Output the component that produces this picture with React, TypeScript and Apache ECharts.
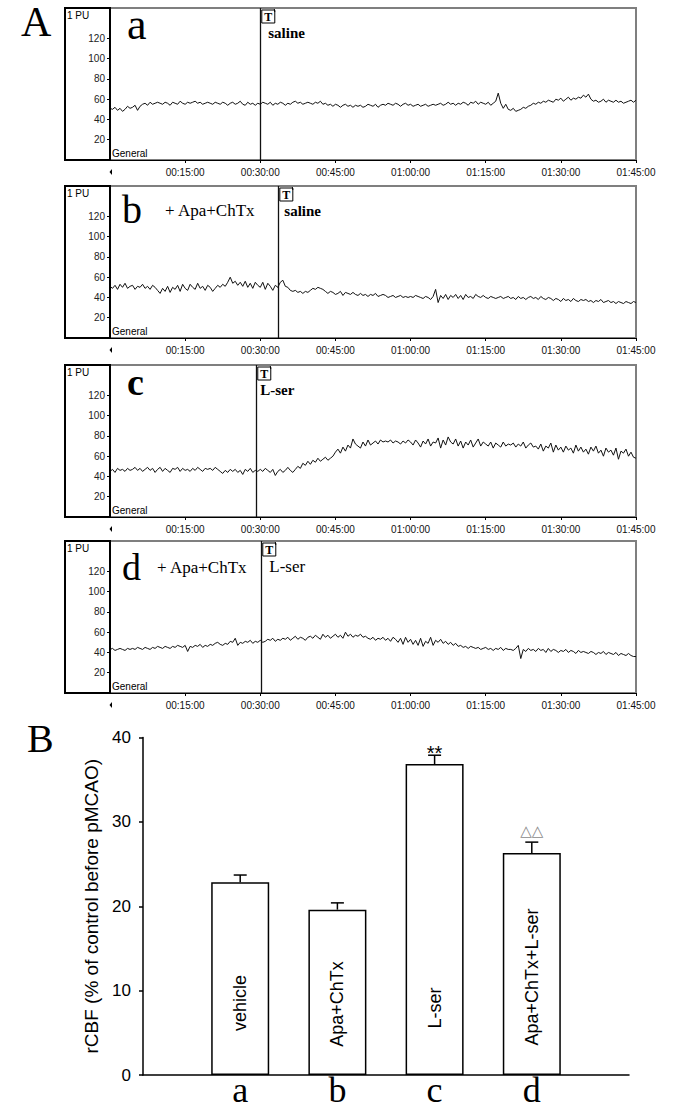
import React, { useEffect, useRef } from 'react';
import * as echarts from 'echarts';

// ---------- DATA ----------
const traceStep = 0.5; // minutes between samples
const traceA = [
  51, 50, 52, 49, 51, 48, 50, 53, 51, 52,
  54, 49, 53, 55, 56, 54, 57, 55, 56, 57,
  56, 55, 57, 56, 54, 57, 56, 55, 58, 56,
  55, 57, 56, 57, 58, 56, 57, 55, 56, 57,
  56, 55, 57, 56, 55, 57, 56, 54, 56, 57,
  55, 56, 58, 55, 54, 57, 55, 56, 54, 56,
  55, 57, 56, 55, 57, 54, 56, 55, 57, 56,
  54, 56, 55, 57, 58, 56, 57, 55, 56, 57,
  56, 55, 57, 56, 58, 55, 56, 54, 55, 53,
  55, 54, 52, 54, 55, 53, 54, 52, 54, 53,
  54, 52, 53, 55, 54, 53, 55, 52, 54, 55,
  54, 56, 55, 54, 56, 55, 53, 55, 56, 54,
  55, 53, 54, 55, 53, 54, 55, 53, 54, 55,
  54, 55, 56, 54, 55, 57, 55, 56, 54, 56,
  55, 57, 56, 54, 57, 56, 58, 55, 57, 56,
  55, 57, 54, 56, 58, 66, 56, 51, 55, 50,
  49, 51, 48, 49, 50, 52, 51, 53, 54, 56,
  55, 57, 56, 58, 57, 59, 58, 57, 60, 59,
  61, 58, 60, 62, 59, 61, 60, 62, 61, 64,
  62, 65, 60, 58, 59, 57, 58, 60, 57, 59,
  58, 57, 59, 57, 58, 56, 57, 58, 59, 57,
  59,
];
const traceB = [
  51, 49, 52, 48, 53, 50, 54, 49, 51, 52,
  48, 51, 50, 53, 49, 51, 48, 52, 50, 47,
  44, 49, 46, 51, 45, 50, 48, 52, 46, 53,
  49, 47, 53, 50, 48, 54, 49, 51, 47, 52,
  50, 46, 49, 52, 50, 53, 51, 55, 60, 54,
  56, 52, 55, 51, 56, 50, 54, 49, 55, 52,
  50, 55, 48, 54, 51, 47, 52, 50, 55, 57,
  51, 50, 47, 46, 47, 45, 46, 44, 46, 45,
  47, 49, 48, 50, 49, 48, 46, 44, 46, 45,
  43, 44, 46, 42, 45, 44, 43, 45, 43, 42,
  44, 42, 43, 41, 43, 42, 44, 41, 42, 43,
  42, 40, 41, 42, 40, 41, 42, 40, 41, 40,
  41, 40, 42, 41, 40, 39, 41, 40, 38, 41,
  48, 35, 42, 39, 43, 38, 42, 40, 43, 39,
  42, 38, 43, 40, 41, 39, 43, 41, 40, 42,
  40, 39, 41, 40, 39, 40, 41, 39, 40, 41,
  39, 40, 38, 41, 39, 40, 38, 40, 41, 39,
  40, 38, 41, 39, 38, 40, 39, 37, 39, 38,
  36, 39, 37, 38, 36, 39, 37, 36, 38, 37,
  38, 36, 37, 35, 37, 36, 38, 35, 36, 37,
  35, 36, 34, 36, 35, 34, 36, 35, 34, 36,
  35,
];
const traceC = [
  45, 47, 44, 48, 46, 47, 45, 48, 46, 47,
  49, 46, 48, 45, 47, 49, 46, 48, 44, 47,
  49, 45, 48, 46, 44, 48, 47, 49, 45, 48,
  46, 47, 45, 48, 46, 49, 47, 45, 48, 47,
  48, 46, 49, 47, 45, 43, 46, 44, 47, 45,
  47, 44, 46, 42, 47, 45, 48, 44, 46, 45,
  47, 45, 48, 46, 44, 47, 41, 45, 47, 44,
  46, 49, 46, 44, 47, 50, 48, 53, 51, 55,
  52, 56, 54, 58, 55, 57, 59, 56, 58, 60,
  64, 67, 63, 69, 65, 71, 68, 77, 72, 70,
  68, 74, 70, 76, 71, 73, 75, 72, 76, 74,
  75, 74, 76, 73, 75, 74, 72, 75, 73, 76,
  74, 71, 76, 73, 69, 75, 72, 77, 70, 74,
  73, 78, 68, 76, 71, 79, 74, 72, 77, 70,
  75, 68, 74, 71, 76, 69, 73, 77, 70, 74,
  72, 70, 74, 68, 73, 71, 69, 74, 70, 72,
  71, 73, 69, 72, 70, 74, 68, 71, 73, 69,
  70, 67, 72, 65, 70, 68, 73, 64, 71, 66,
  69, 64, 70, 66, 68, 63, 71, 65, 69, 64,
  67, 62, 69, 65, 70, 63, 66, 60, 68, 64,
  66, 61, 68, 57, 65, 63, 67, 60, 64, 59,
  58,
];
const traceD = [
  43, 44, 42, 43, 44, 43, 42, 44, 43, 44,
  43, 45, 44, 43, 45, 44, 43, 45, 44, 46,
  45, 44, 46, 45, 44, 46, 45, 47, 46, 45,
  47, 41, 46, 45, 47, 46, 48, 45, 47, 46,
  48, 47, 49, 50, 48, 47, 49, 48, 51, 50,
  54, 47, 50, 49, 51, 50, 52, 49, 51, 50,
  52, 50, 51, 53, 52, 54, 51, 53, 52, 54,
  53, 55, 52, 54, 56, 53, 55, 54, 52, 55,
  56, 54, 57, 55, 53, 58, 55, 57, 54, 56,
  58, 55, 57, 54, 60, 56, 58, 55, 57, 56,
  58, 55, 56, 54, 53, 55, 52, 54, 53, 55,
  52, 54, 51, 55, 53, 50, 54, 48, 55, 50,
  53, 48, 52, 47, 54, 46, 51, 49, 55, 47,
  52, 50, 53, 49, 51, 48, 50, 47, 49, 46,
  47, 45, 46, 44, 46, 45, 44, 45, 43, 44,
  45, 43, 44, 42, 44, 43, 45, 42, 44, 43,
  43, 42, 44, 47, 34, 43, 41, 44, 42, 43,
  41, 44, 42, 43, 40, 44, 41, 43, 42, 40,
  42, 41, 43, 40, 42, 41, 39, 42, 40, 41,
  40, 39, 41, 40, 38, 40, 39, 41, 38, 40,
  39, 38, 40, 37, 39, 38, 37, 39, 37, 36,
  36,
];
const markerTimes = [30, 33.6, 29.2, 30.2];
const markerLabels = ['saline', 'saline', 'L-ser', 'L-ser'];
const panelLetters = ['a', 'b', 'c', 'd'];
const pretreatLabels = ['', '+ Apa+ChTx', '', '+ Apa+ChTx'];
const traceYTicks = [20, 40, 60, 80, 100, 120];
const traceXTicks = [15, 30, 45, 60, 75, 90, 105];

const barCats = ['a', 'b', 'c', 'd'];
const barNames = ['vehicle', 'Apa+ChTx', 'L-ser', 'Apa+ChTx+L-ser'];
const barMeans = [22.85, 19.6, 36.85, 26.3];
const barErrs = [0.85, 0.8, 1.05, 1.3];
const barSig = ['', '', '**', '\u25B3\u25B3'];
const barYTicks = [0, 10, 20, 30, 40];

// ---------- LAYOUT ----------
const W = 674;
const H = 1113;
const TRACE_TOPS = [8, 186, 365, 541];
const TRACE_H = 152;
const TRACE_LEFT = 110;
const TRACE_W = 526;
const SANS = 'Liberation Sans, Arial, sans-serif';
const SERIF = 'Liberation Serif, Times New Roman, serif';

const fmtTime = (m: number) => {
  const h = Math.floor(m / 60);
  const mm = Math.round(m % 60);
  return `${String(h).padStart(2, '0')}:${String(mm).padStart(2, '0')}:00`;
};

export default function App() {
  const ref = useRef<HTMLDivElement>(null);

  useEffect(() => {
    if (!ref.current) return;
    const chart = echarts.init(ref.current, undefined, { renderer: 'svg' });
    const traces = [traceA, traceB, traceC, traceD];

    const grid: any[] = [];
    const xAxis: any[] = [];
    const yAxis: any[] = [];
    const series: any[] = [];

    traces.forEach((tr, i) => {
      grid.push({
        left: TRACE_LEFT, top: TRACE_TOPS[i], width: TRACE_W, height: TRACE_H,
        show: true, borderColor: '#7f7f7f', borderWidth: 2, backgroundColor: 'transparent',
      });
      xAxis.push({
        type: 'value', gridIndex: i, min: 0, max: 105, interval: 15,
        axisLine: { show: true, onZero: false, lineStyle: { color: '#000', width: 1 } },
        axisTick: { show: true, length: 3, customValues: traceXTicks, lineStyle: { color: '#000' } },
        axisLabel: {
          customValues: traceXTicks, formatter: (v: number) => fmtTime(v),
          fontSize: 10, fontFamily: SANS, color: '#111', margin: 7,
        },
        splitLine: { show: false },
      });
      yAxis.push({
        type: 'value', gridIndex: i, min: 0, max: 150,
        axisLine: { show: false },
        axisTick: { show: true, length: 3, customValues: traceYTicks, lineStyle: { color: '#000' } },
        axisLabel: { customValues: traceYTicks, fontSize: 10, fontFamily: SANS, color: '#222', margin: 5 },
        splitLine: { show: false },
      });
      series.push({
        type: 'line', xAxisIndex: i, yAxisIndex: i, symbol: 'none', silent: true,
        data: tr.map((v, j) => [j * traceStep, v]),
        lineStyle: { color: '#111', width: 1 },
        markLine: {
          silent: true, symbol: ['none', 'none'], label: { show: false },
          lineStyle: { color: '#111', width: 1.3, type: 'solid' },
          data: [{ xAxis: markerTimes[i] }],
        },
      });
    });

    // Bar panel
    const bi = 4;
    grid.push({ left: 143, top: 737.5, width: 486, height: 337.5 });
    xAxis.push({
      type: 'value', gridIndex: bi, min: 0, max: barCats.length + 1,
      axisLine: { show: true, onZero: false, lineStyle: { color: '#000', width: 1.5 } },
      axisTick: { show: false },
      axisLabel: {
        customValues: barCats.map((_, i) => i + 1),
        formatter: (v: number) => barCats[v - 1] || '',
        fontSize: 36, lineHeight: 36, fontFamily: SERIF, color: '#000', margin: -3,
      },
      splitLine: { show: false },
    });
    yAxis.push({
      type: 'value', gridIndex: bi, min: 0, max: 40, interval: 10,
      axisLine: { show: true, lineStyle: { color: '#000', width: 1.5 } },
      axisTick: { show: true, length: 4, customValues: barYTicks, lineStyle: { color: '#000', width: 1.5 } },
      axisLabel: { customValues: barYTicks, fontSize: 17, fontFamily: SANS, color: '#000', margin: 12 },
      splitLine: { show: false },
      name: 'rCBF (% of control before pMCAO)', nameLocation: 'middle', nameRotate: 90, nameGap: 33,
      nameTextStyle: { fontSize: 19, fontFamily: SANS, color: '#000' },
    });
    series.push({
      type: 'bar', xAxisIndex: bi, yAxisIndex: bi, barWidth: 58, silent: true,
      data: barMeans.map((v, i) => [i + 1, v]),
      itemStyle: { color: '#fff', borderColor: '#000', borderWidth: 1.5 },
    });
    const labelLift = [72, 71, 67, 98];
    series.push({
      type: 'custom', xAxisIndex: bi, yAxisIndex: bi, silent: true, z: 5,
      data: barMeans.map((m, i) => [i + 1, m, barErrs[i]]),
      renderItem: (params: any, api: any) => {
        const i = params.dataIndex;
        const x = api.value(0), m = api.value(1), e = api.value(2);
        const top = api.coord([x, m + e]);
        const base = api.coord([x, m]);
        const zero = api.coord([x, 0]);
        const sigColor = barSig[i] === '**' ? '#000' : '#8a8a8a';
        return {
          type: 'group',
          children: [
            { type: 'line', shape: { x1: base[0], y1: base[1], x2: top[0], y2: top[1] }, style: { stroke: '#000', lineWidth: 1.5 } },
            { type: 'line', shape: { x1: top[0] - 6.5, y1: top[1], x2: top[0] + 6.5, y2: top[1] }, style: { stroke: '#000', lineWidth: 1.5 } },
            {
              type: 'text', x: top[0], y: barSig[i] === '**' ? top[1] - 2 : top[1] - 11,
              style: {
                text: barSig[i], fill: sigColor, fontSize: barSig[i] === '**' ? 20 : 15,
                fontFamily: barSig[i] === '**' ? SANS : 'DejaVu Sans, sans-serif',
                align: 'center', verticalAlign: 'middle',
              },
            },
            {
              type: 'text', x: zero[0], y: zero[1] - labelLift[i], rotation: Math.PI / 2,
              style: {
                text: barNames[i], fill: '#000', fontSize: 18, fontFamily: SANS,
                align: 'center', verticalAlign: 'middle',
              },
            },
          ],
        };
      },
    });

    chart.setOption({ animation: false, grid, xAxis, yAxis, series });

    // Annotations positioned from the data scales
    const graphic: any[] = [];
    const txt = (text: string, x: number, y: number, fontSize: number, family: string, opts: any = {}) => ({
      type: 'text', z: 100, x, y,
      style: {
        text, fontSize, fontFamily: family, fill: '#000',
        align: opts.align || 'left', verticalAlign: 'middle',
        fontWeight: opts.weight || 'normal',
      },
    });
    graphic.push(txt('A', 21, 21.5, 42, SERIF));
    graphic.push(txt('B', 27, 738, 40, SERIF));
    const letterSizes = [44, 40, 38, 38];
    const letterX = [127, 122, 127, 122];
    const letterBase = [40, 223, 395, 580];
    const markerDx = [8, 6, 4, 8];
    traces.forEach((_, i) => {
      const top = TRACE_TOPS[i];
      const bottom = top + TRACE_H;
      // left label box
      graphic.push({
        type: 'rect', z: 100,
        shape: { x: 65, y: top, width: TRACE_LEFT - 65, height: TRACE_H },
        style: { fill: 'none', stroke: '#000', lineWidth: 2 },
      });
      graphic.push(txt('1 PU', 67, top + 7.5, 10, SANS));
      graphic.push(txt('General', TRACE_LEFT + 2, bottom - 7, 10, SANS));
      // small arrow at x-axis origin
      graphic.push({
        type: 'polygon', z: 100,
        shape: { points: [[TRACE_LEFT + 2, bottom + 9], [TRACE_LEFT + 2, bottom + 15], [TRACE_LEFT - 0.5, bottom + 12]] },
        style: { fill: '#000' },
      });
      // panel letter
      graphic.push(txt(panelLetters[i], letterX[i], letterBase[i] - letterSizes[i] * 0.35, letterSizes[i], SERIF,
        { weight: i === 2 ? 'bold' : 'normal' }));
      if (pretreatLabels[i]) {
        graphic.push(txt(pretreatLabels[i], i === 1 ? 165 : 157, (i === 1 ? 216 : 573) - 6, 17, SERIF));
      }
      const p = chart.convertToPixel({ gridIndex: i }, [markerTimes[i], 150]) as number[];
      graphic.push({
        type: 'rect', z: 100,
        shape: { x: p[0] + 1.5, y: top + 2, width: 13, height: 13 },
        style: { fill: '#fff', stroke: '#000', lineWidth: 1 },
      });
      graphic.push(txt('T', p[0] + 8, top + 9, 12, SERIF, { align: 'center', weight: 'bold' }));
      graphic.push({
        type: 'line', z: 100,
        shape: { x1: p[0] + 14, y1: top + 1, x2: p[0] + 14.5, y2: top + 4 },
        style: { stroke: '#000', lineWidth: 1 },
      });
      graphic.push(txt(markerLabels[i], p[0] + markerDx[i], top + 25, i === 3 ? 17 : 15, SERIF,
        { weight: i === 3 ? 'normal' : 'bold' }));
    });
    chart.setOption({ graphic });

    return () => chart.dispose();
  }, []);

  return (
    <div
      ref={ref}
      style={{ position: 'absolute', left: 0, top: 0, width: W, height: H, background: '#fff' }}
    />
  );
}
